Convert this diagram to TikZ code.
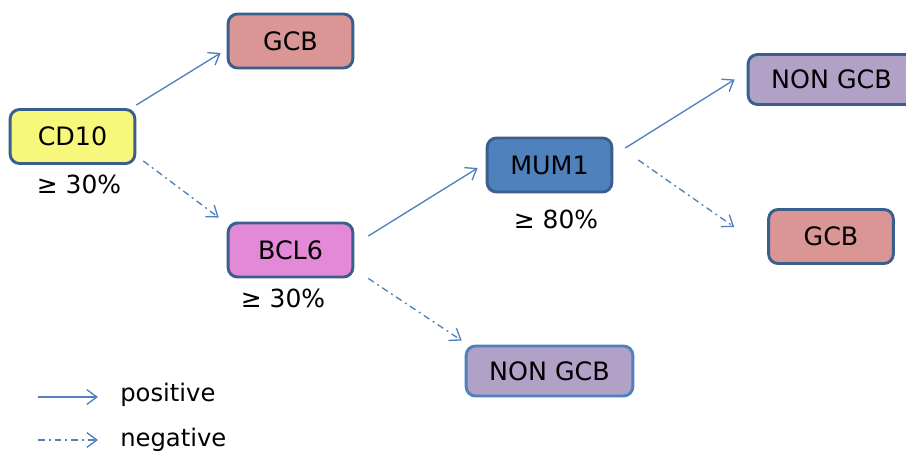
\documentclass[tikz,border=0pt]{standalone}
\usepackage{fontspec}
\setmainfont{DejaVu Sans}
\usetikzlibrary{arrows.meta}
\definecolor{edgeblue}{HTML}{4F81BD}
\definecolor{boxline}{HTML}{3B5F8D}
\definecolor{cdfill}{HTML}{F7F77C}
\definecolor{gcbfill}{HTML}{D99694}
\definecolor{bclfill}{HTML}{E488D8}
\definecolor{mumfill}{HTML}{4F81BD}
\definecolor{nonfill}{HTML}{B2A1C7}
\tikzset{
  box/.style={draw=boxline, line width=2.2pt, rounded corners=7pt, inner sep=0pt,
    minimum width=93.5pt, minimum height=40.5pt, font=\fontsize{19}{22}\selectfont},
  widebox/.style={box, minimum width=125pt, minimum height=37.5pt},
  pct/.style={font=\fontsize{18.7}{22}\selectfont, inner sep=0pt},
  legtext/.style={font=\fontsize{18.2}{22}\selectfont, inner sep=0pt, anchor=west},
  posline/.style={draw=edgeblue, line width=1pt, -{Straight Barb[length=7.5pt,width=11pt]}},
  negline/.style={posline, dash pattern=on 5pt off 3pt on 1.5pt off 3pt},
}
\begin{document}
\begin{tikzpicture}[x=0.75pt, y=-0.75pt]
\useasboundingbox (0,0) rectangle (906,453);
\clip (0,0) rectangle (906,453);
\fill[white] (0,0) rectangle (906,453);

% decision boxes
\node[box, fill=cdfill]  (cd10) at (72.5,136.5) {CD10};
\node[box, fill=gcbfill] (gcb1) at (290.5,41)   {GCB};
\node[box, fill=bclfill] (bcl6) at (290.5,250)  {BCL6};
\node[box, fill=mumfill] (mum1) at (549.5,165)  {MUM1};
\node[widebox, fill=nonfill] (non1) at (831.5,79.5) {NON GCB};
\node[box, fill=gcbfill] (gcb2) at (831,236.5)  {GCB};
\node[widebox, fill=nonfill, draw=edgeblue] (non2) at (549.5,371) {NON GCB};

% thresholds
\node[pct] (t1) at (79,184)  {≥ 30\%};
\node[pct] (t2) at (283,298) {≥ 30\%};
\node[pct] (t3) at (556,219) {≥ 80\%};

% connectors
\draw[posline] ([shift={(0,-3)}]cd10.north east) -- ([shift={(-6,12)}]gcb1.west);
\draw[negline] ([shift={(7,-4)}]cd10.south east) -- ([shift={(-8,-4)}]bcl6.north west);
\draw[posline] ([shift={(14,-14)}]bcl6.east) -- ([shift={(-8,3)}]mum1.west);
\draw[negline] ([shift={(14,0)}]bcl6.south east) -- ([shift={(-3,-4)}]non2.north west);
\draw[posline] ([shift={(12,-17)}]mum1.east) -- ([shift={(-12,0)}]non1.west);
\draw[negline] ([shift={(25,-5)}]mum1.east) -- ([shift={(-33,-9.5)}]gcb2.west);

% legend
\coordinate (la) at (38,397);
\coordinate (lb) at (98,397);
\coordinate (lc) at (38,440);
\coordinate (ld) at (98,440);
\draw[posline] (la) -- (lb);
\draw[negline] (lc) -- (ld);
\node[legtext] (lpos) at (120,395) {positive};
\node[legtext] (lneg) at (120,440) {negative};
\end{tikzpicture}
\end{document}
